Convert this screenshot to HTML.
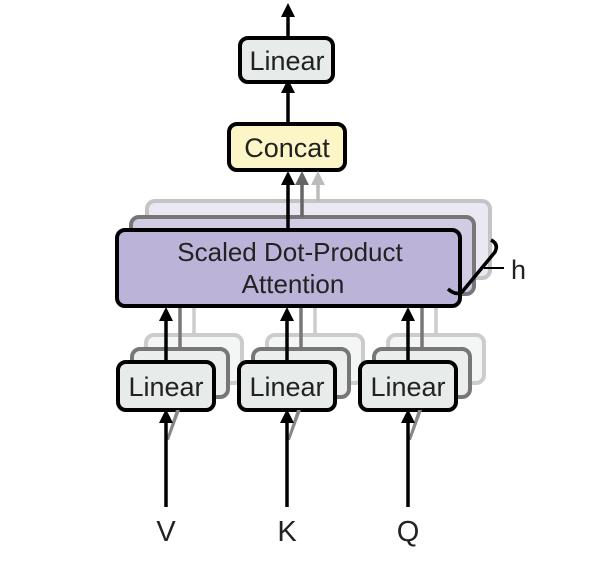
<!DOCTYPE html>
<html><head><style>body{margin:0;background:#fff}svg{display:block}</style></head><body>
<svg width="591" height="573" viewBox="0 0 591 573" xmlns="http://www.w3.org/2000/svg" font-family="Liberation Sans, sans-serif">
<defs>
<marker id="a" markerWidth="4" markerHeight="4" refX="2" refY="2" orient="auto" markerUnits="strokeWidth"><path d="M0,0 L4,2 L0,4 z" fill="#000"/></marker>
<marker id="a2" markerWidth="4" markerHeight="4" refX="2" refY="2" orient="auto" markerUnits="strokeWidth"><path d="M0,0 L4,2 L0,4 z" fill="#666"/></marker>
<marker id="a3" markerWidth="4" markerHeight="4" refX="2" refY="2" orient="auto" markerUnits="strokeWidth"><path d="M0,0 L4,2 L0,4 z" fill="#bbb"/></marker>
</defs>
<line x1="288" y1="38" x2="288" y2="10" stroke="#000" stroke-width="3.5" marker-end="url(#a)"/>
<line x1="288" y1="124" x2="288" y2="86" stroke="#000" stroke-width="3.5" marker-end="url(#a)"/>
<rect x="240" y="38" width="93" height="44" rx="8" fill="#e7ebea" stroke="#000" stroke-width="4"/>
<text x="287" y="70" font-size="27" text-anchor="middle" fill="#222">Linear</text>
<rect x="229" y="124" width="116" height="46" rx="8" fill="#fcf5c6" stroke="#000" stroke-width="4"/>
<text x="287" y="157" font-size="27" text-anchor="middle" fill="#222">Concat</text>
<rect x="147" y="201" width="343" height="77" rx="8" fill="#ebe8f3" stroke="#c4c4c4" stroke-width="4"/>
<line x1="318" y1="201" x2="318" y2="178" stroke="#bbb" stroke-width="3.5" marker-end="url(#a3)"/>
<rect x="131" y="217" width="343" height="77" rx="8" fill="#d2cbe4" stroke="#777" stroke-width="4"/>
<line x1="302" y1="217" x2="302" y2="178" stroke="#666" stroke-width="3.5" marker-end="url(#a2)"/>
<rect x="117" y="230" width="343" height="76" rx="8" fill="#bcb3d9" stroke="#000" stroke-width="4"/>
<line x1="288" y1="230" x2="288" y2="178" stroke="#000" stroke-width="3.5" marker-end="url(#a)"/>
<text x="290" y="261" font-size="26" text-anchor="middle" fill="#222">Scaled Dot-Product</text>
<text x="293" y="293" font-size="26" text-anchor="middle" fill="#222">Attention</text>
<path d="M491,240 Q499,244 495,252 L462,292 Q456,296 448,289" fill="none" stroke="#000" stroke-width="3.5"/>
<line x1="484" y1="268" x2="504" y2="268" stroke="#000" stroke-width="2"/>
<text x="511" y="279" font-size="27" fill="#222">h</text>
<g id="L">
<rect x="146" y="335" width="96" height="48" rx="8" fill="#f4f5f5" stroke="#ccc" stroke-width="4"/>
<line x1="194" y1="335" x2="194" y2="308" stroke="#ccc" stroke-width="3.5"/>
<rect x="132" y="349" width="96" height="48" rx="8" fill="#eceeee" stroke="#777" stroke-width="4"/>
<line x1="180" y1="349" x2="180" y2="308" stroke="#777" stroke-width="3.5"/>
<rect x="118" y="362" width="96" height="48" rx="8" fill="#e7ebea" stroke="#000" stroke-width="4"/>
<line x1="166" y1="362" x2="166" y2="314" stroke="#000" stroke-width="3.5" marker-end="url(#a)"/>
<text x="166" y="396" font-size="27" text-anchor="middle" fill="#222">Linear</text>
<path d="M169,440 L180,410 L176,410 L166,440 z" fill="#888"/>
<line x1="166" y1="507" x2="166" y2="416" stroke="#000" stroke-width="3.5" marker-end="url(#a)"/>
</g>
<use href="#L" x="121"/>
<use href="#L" x="242"/>
<text x="166" y="541" font-size="29" text-anchor="middle" fill="#222">V</text>
<text x="287" y="541" font-size="29" text-anchor="middle" fill="#222">K</text>
<text x="408" y="541" font-size="29" text-anchor="middle" fill="#222">Q</text>
</svg>
</body></html>
